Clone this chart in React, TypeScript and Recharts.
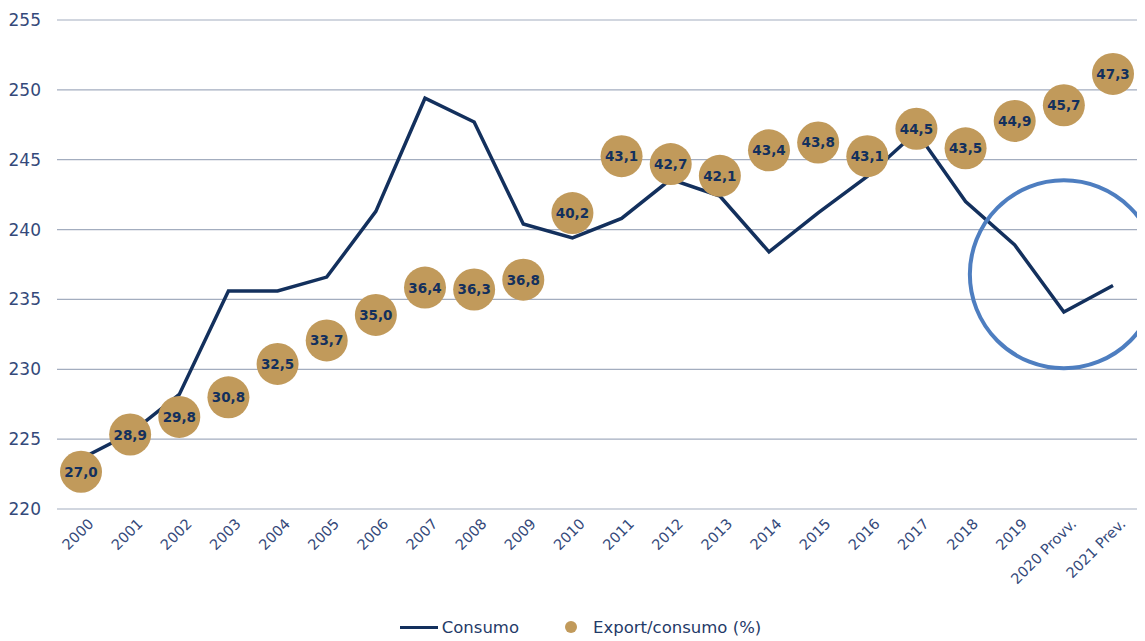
import React from "react";
import {
  ComposedChart,
  Line,
  Scatter,
  XAxis,
  YAxis,
  CartesianGrid,
  Legend,
  LabelList,
  ReferenceDot,
} from "recharts";

const years = [
  "2000", "2001", "2002", "2003", "2004", "2005", "2006", "2007", "2008", "2009", "2010",
  "2011", "2012", "2013", "2014", "2015", "2016", "2017", "2018", "2019", "2020 Provv.", "2021 Prev.",
];
const consumo = [
  223.6, 225.4, 228.2, 235.6, 235.6, 236.6, 241.3, 249.4, 247.7, 240.4, 239.4,
  240.8, 243.6, 242.4, 238.4, 241.2, 243.8, 247.0, 242.0, 238.9, 234.1, 236.0,
];
const exportShare = [
  27.0, 28.9, 29.8, 30.8, 32.5, 33.7, 35.0, 36.4, 36.3, 36.8, 40.2,
  43.1, 42.7, 42.1, 43.4, 43.8, 43.1, 44.5, 43.5, 44.9, 45.7, 47.3,
];
const yTicks = [220, 225, 230, 235, 240, 245, 250, 255];

const data = years.map((year, i) => ({
  year,
  consumo: consumo[i],
  pct: exportShare[i],
}));

const NAVY = "#13305d";
const GOLD = "#c19a5b";
const TICK = "#34497a";
const FONT = "'DejaVu Sans', sans-serif";

const Bubble = (props: any) => {
  const { cx, cy } = props;
  return <circle cx={cx} cy={cy} r={21} fill={GOLD} />;
};

const BubbleLabel = (props: any) => {
  const { x, y, width, height, value } = props;
  const cx = x + (width || 0) / 2;
  const cy = y + (height || 0) / 2;
  return (
    <text
      x={cx}
      y={cy}
      dy={5}
      textAnchor="middle"
      fill={NAVY}
      fontSize={13.5}
      fontWeight="bold"
      fontFamily={FONT}
    >
      {Number(value).toFixed(1).replace(".", ",")}
    </text>
  );
};

const XTick = ({ x, y, payload }: any) => (
  <text
    x={x}
    y={y}
    transform={`rotate(-45, ${x}, ${y})`}
    dx={4}
    dy={15}
    textAnchor="end"
    fill={TICK}
    fontSize={14.5}
    fontFamily={FONT}
  >
    {payload.value}
  </text>
);

const renderLegend = () => (
  <div
    style={{
      height: 28,
      display: "flex",
      alignItems: "center",
      justifyContent: "center",
      fontFamily: FONT,
      fontSize: 16.5,
      color: "#1f3a68",
      paddingLeft: 16,
      marginTop: 5,
    }}
  >
    <span style={{ display: "inline-block", width: 38, height: 3, background: NAVY, marginRight: 4 }} />
    <span>Consumo</span>
    <span
      style={{
        display: "inline-block",
        width: 12,
        height: 12,
        borderRadius: 6,
        background: GOLD,
        marginLeft: 46,
        marginRight: 16,
      }}
    />
    <span>Export/consumo (%)</span>
  </div>
);

export default function App() {
  return (
    <ComposedChart
      width={1137}
      height={633}
      data={data}
      margin={{ top: 12, right: 8, bottom: 0, left: 0 }}
    >
      <CartesianGrid vertical={false} stroke="#a3adbf" strokeWidth={1.2} />
      <XAxis
        dataKey="year"
        interval={0}
        axisLine={false}
        tickLine={false}
        height={99}
        padding={{ left: 24, right: 24 }}
        tick={<XTick />}
      />
      <YAxis
        domain={[220, 255]}
        ticks={yTicks}
        axisLine={false}
        tickLine={false}
        width={49}
        tickMargin={10}
        tick={{ fill: TICK, fontSize: 17, fontFamily: FONT }}
      />
      <YAxis yAxisId="pct" orientation="right" hide domain={[25.1, 50.05]} />
      <Legend verticalAlign="bottom" content={renderLegend} />
      <Line
        dataKey="consumo"
        name="Consumo"
        stroke={NAVY}
        strokeWidth={3.5}
        dot={false}
        activeDot={false}
        isAnimationActive={false}
      />
      <Scatter
        dataKey="pct"
        yAxisId="pct"
        name="Export/consumo (%)"
        fill={GOLD}
        shape={<Bubble />}
        isAnimationActive={false}
      >
        <LabelList dataKey="pct" content={<BubbleLabel />} />
      </Scatter>
      <ReferenceDot
        x="2020 Provv."
        y={236.8}
        r={94}
        fill="none"
        stroke="#4e7ec0"
        strokeWidth={4}
        ifOverflow="visible"
      />
    </ComposedChart>
  );
}
